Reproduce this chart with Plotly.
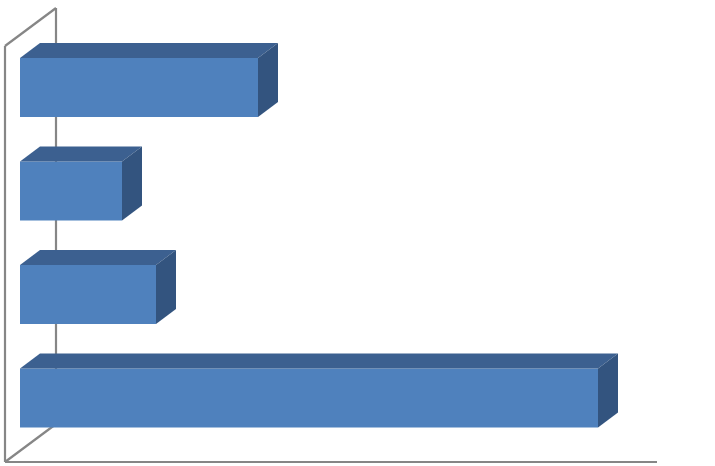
import plotly.graph_objects as go

# bottom to top
cats = [0, 1, 2, 3]
vals = [17, 4, 3, 7]

W, H = 715, 466
# pixel mapping of the plot area
X0_PX, X_UNIT = 20, 34.0       # value 0 at px 20, 34 px per unit
Y0_PX, Y_UNIT = 398, 103.5     # category 0 centre at px 398

def xd(px):
    return (px - X0_PX) / X_UNIT

def yd(py):
    return (Y0_PX - py) / Y_UNIT

bw = 59 / Y_UNIT
ddx = 20 / X_UNIT
ddy = 15 / Y_UNIT

FRONT = "#4F81BD"
TOP = "#3C6090"
SIDE = "#33547F"
WALL = "#868686"

fig = go.Figure()

fig.add_trace(go.Bar(
    x=vals, y=cats, orientation="h", width=bw,
    marker=dict(color=FRONT, line=dict(width=0)),
    hoverinfo="skip"
))

for c, v in zip(cats, vals):
    t = c + bw / 2
    b = c - bw / 2
    fig.add_trace(go.Scatter(
        x=[0, v, v + ddx, ddx, 0], y=[t, t, t + ddy, t + ddy, t],
        mode="lines", fill="toself", fillcolor=TOP,
        line=dict(width=0, color=TOP), hoverinfo="skip"
    ))
    fig.add_trace(go.Scatter(
        x=[v, v, v + ddx, v + ddx, v], y=[b, t, t + ddy, b + ddy, b],
        mode="lines", fill="toself", fillcolor=SIDE,
        line=dict(width=0, color=SIDE), hoverinfo="skip"
    ))

# wall / floor outline
segs = [
    ((5, 46), (5, 462)),
    ((5, 46), (56, 8)),
    ((56, 8), (56, 424)),
    ((5, 462), (56, 424)),
    ((5, 462), (657, 462)),
]
for (a, b) in segs:
    fig.add_shape(type="line", x0=xd(a[0]), y0=yd(a[1]), x1=xd(b[0]), y1=yd(b[1]),
                  line=dict(color=WALL, width=2.2), layer="below")

fig.update_layout(
    width=W, height=H,
    margin=dict(l=0, r=0, t=0, b=0),
    paper_bgcolor="white", plot_bgcolor="white",
    showlegend=False,
    xaxis=dict(range=[xd(0), xd(W)], visible=False, fixedrange=True),
    yaxis=dict(range=[yd(H), yd(0)], visible=False, fixedrange=True),
)

# page body has a default 8px margin; drop it so the chart sits at the corner
fig.write_html("out.html", config={"displayModeBar": False},
               post_script="document.body.style.margin='0';")
